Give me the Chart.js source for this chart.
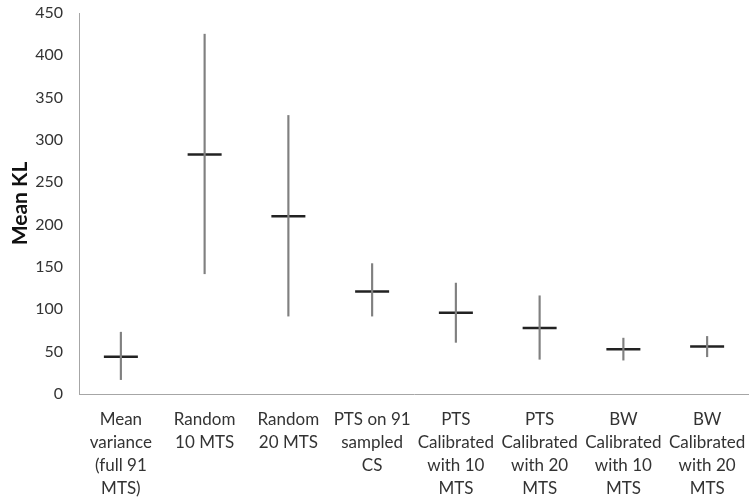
<!doctype html>
<html lang="en">
<head>
<meta charset="UTF-8">
<title>Mean KL</title>
<script src="https://cdn.jsdelivr.net/npm/chart.js"></script>
<style>
  body { margin: 0; background: #fff; }
  #wrap { width: 749px; height: 502px; }
</style>
</head>
<body>
<div id="wrap"><canvas id="kl-chart"></canvas></div>
<script>
  // categories (multi-line labels)
  const categories = [
    ['Mean', 'variance', '(full 91', 'MTS)'],
    ['Random', '10 MTS'],
    ['Random', '20 MTS'],
    ['PTS on 91', 'sampled', 'CS'],
    ['PTS', 'Calibrated', 'with 10', 'MTS'],
    ['PTS', 'Calibrated', 'with 20', 'MTS'],
    ['BW', 'Calibrated', 'with 10', 'MTS'],
    ['BW', 'Calibrated', 'with 20', 'MTS']
  ];
  const highValues = [73, 425, 329, 154, 131, 116, 66, 68];
  const lowValues  = [17, 142, 92, 92, 61, 41, 40, 44];
  const meanValues = [44, 283, 210, 121, 96, 78, 53, 56];

  const ranges = highValues.map((h, i) => [lowValues[i], h]);

  const ctx = document.getElementById('kl-chart').getContext('2d');
  new Chart(ctx, {
    type: 'bar',
    data: {
      labels: categories,
      datasets: [{
        label: 'Range',
        data: ranges,
        backgroundColor: '#808080',
        barThickness: 1.5,
        borderSkipped: false
      }, {
        type: 'line',
        label: 'Mean',
        data: meanValues,
        showLine: false,
        pointStyle: 'line',
        pointRadius: 17,
        borderWidth: 2.5,
        borderColor: '#222',
        backgroundColor: '#222'
      }]
    },
    options: {
      responsive: true,
      maintainAspectRatio: false,
      animation: false,
      layout: { autoPadding: false, padding: { top: 13, right: 0, bottom: 0, left: 0 } },
      plugins: { legend: { display: false }, tooltip: { enabled: false } },
      scales: {
        x: {
          grid: { display: false },
          border: { color: '#a6a6a6', width: 1 },
          ticks: {
            color: '#333',
            font: { family: 'Lato', size: 17, lineHeight: 1.35 },
            maxRotation: 0,
            autoSkip: false,
            padding: 6
          },
          afterFit: (scale) => {
            scale.height = 108;
            scale.paddingLeft = 0;
            scale.paddingRight = 0;
          }
        },
        y: {
          min: 0,
          max: 450,
          grid: { display: false },
          border: { color: '#a6a6a6', width: 1 },
          ticks: {
            stepSize: 50,
            color: '#333',
            font: { family: 'Lato', size: 16 },
            padding: 8
          },
          title: {
            display: true,
            text: 'Mean KL',
            color: '#111',
            font: { family: 'Lato', size: 21, weight: 'bold' },
            padding: { top: 8, bottom: 0 }
          },
          afterFit: (scale) => {
            scale.width = 79;
            scale.paddingTop = 0;
            scale.paddingBottom = 0;
          }
        }
      }
    }
  });
</script>
</body>
</html>
